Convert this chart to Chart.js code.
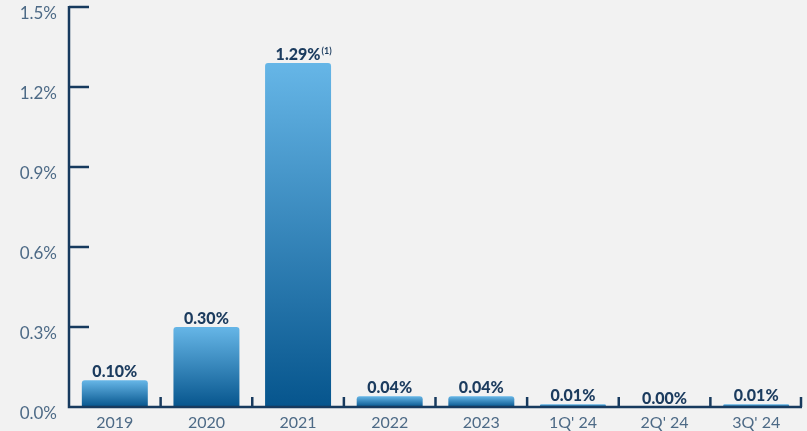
<!DOCTYPE html>
<html>
<head>
<meta charset="utf-8">
<script src="https://cdn.jsdelivr.net/npm/chart.js@4.4.1/dist/chart.umd.min.js"></script>
<style>
  html, body { margin: 0; padding: 0; background: #f2f2f2; }
  #wrap { width: 807px; height: 431px; position: relative; }
</style>
</head>
<body>
<div id="wrap"><canvas id="chart"></canvas></div>
<script>
const categories = ["2019", "2020", "2021", "2022", "2023", "1Q' 24", "2Q' 24", "3Q' 24"];
const rates = [0.10, 0.30, 1.29, 0.04, 0.04, 0.01, 0.00, 0.01];
const footnotes = ["", "", "(1)", "", "", "", "", ""];
const yTicks = [0, 0.3, 0.6, 0.9, 1.2, 1.5];

const navy = "#173a5e";
const tickGray = "#4d6a86";

// hand-drawn axis: inward ticks on y, upward separators on x
const axisPlugin = {
  id: "axisLines",
  afterDatasetsDraw(chart) {
    const { ctx, chartArea, scales } = chart;
    const x = scales.x, y = scales.y;
    ctx.save();
    ctx.strokeStyle = navy;
    ctx.lineWidth = 2.5;
    ctx.lineCap = "butt";
    ctx.beginPath();
    ctx.moveTo(chartArea.left, y.getPixelForValue(1.5) - 1);
    ctx.lineTo(chartArea.left, y.getPixelForValue(0));
    ctx.lineTo(chartArea.right, y.getPixelForValue(0));
    ctx.stroke();

    yTicks.forEach((v) => {
      if (v === 0) return;
      const py = y.getPixelForValue(v);
      ctx.beginPath();
      ctx.moveTo(chartArea.left, py);
      ctx.lineTo(chartArea.left + 20, py);
      ctx.stroke();
    });

    const base = y.getPixelForValue(0);
    for (let i = 0; i < categories.length; i++) {
      const px = (x.getPixelForValue(i) + x.getPixelForValue(i + 1)) / 2;
      const edge = i === categories.length - 1 ? chartArea.right - 1 : px;
      ctx.beginPath();
      ctx.moveTo(edge, base);
      ctx.lineTo(edge, base - 10);
      ctx.stroke();
    }

    // value labels
    const meta = chart.getDatasetMeta(0);
    ctx.fillStyle = "#1b3b5e";
    ctx.textBaseline = "alphabetic";
    meta.data.forEach((bar, i) => {
      const text = rates[i].toFixed(2) + "%";
      ctx.font = "900 16px Lato";
      ctx.textAlign = "center";
      const ty = bar.y - 3;
      ctx.fillText(text, bar.x, ty);
      if (footnotes[i]) {
        const w = ctx.measureText(text).width;
        ctx.font = "bold 9px Lato";
        ctx.textAlign = "left";
        ctx.fillText(footnotes[i], bar.x + w / 2 + 1, ty - 6);
      }
    });
    ctx.restore();
  }
};

const ctx = document.getElementById("chart").getContext("2d");

new Chart(ctx, {
  type: "bar",
  data: {
    labels: categories,
    datasets: [{
      data: rates,
      backgroundColor: (c) => {
        const chart = c.chart;
        if (!chart.chartArea) return "#3a8fcc";
        const y = chart.scales.y;
        const top = y.getPixelForValue(c.raw);
        const bottom = y.getPixelForValue(0);
        if (bottom - top < 1) return "#3a8fcc";
        const g = chart.ctx.createLinearGradient(0, top, 0, bottom);
        g.addColorStop(0, "#66b6e7");
        g.addColorStop(1, "#06558d");
        return g;
      },
      borderRadius: { topLeft: 3, topRight: 3 },
      borderSkipped: "start",
      categoryPercentage: 1,
      barPercentage: 0.72,
    }],
  },
  options: {
    responsive: true,
    maintainAspectRatio: false,
    animation: false,
    layout: { padding: { top: 7, right: 5, left: 0, bottom: 0 } },
    plugins: {
      legend: { display: false },
      tooltip: { enabled: false },
    },
    scales: {
      x: {
        grid: { display: false, drawTicks: false },
        border: { display: false },
        ticks: {
          color: tickGray,
          font: { family: "Lato", size: 16 },
          padding: 6,
        },
        afterFit: (s) => { s.height = 24; s.paddingLeft = 0; s.paddingRight = 0; },
      },
      y: {
        min: 0,
        max: 1.5,
        grid: { display: false, drawTicks: false },
        border: { display: false },
        afterBuildTicks: (s) => { s.ticks = yTicks.map((v) => ({ value: v })); },
        ticks: {
          color: tickGray,
          font: { family: "Lato", size: 17 },
          padding: 12,
          labelOffset: 7,
          callback: (v) => v.toFixed(1) + "%",
        },
        afterFit: (s) => { s.width = 69; s.paddingTop = 0; s.paddingBottom = 0; },
      },
    },
  },
  plugins: [axisPlugin],
});
</script>
</body>
</html>
